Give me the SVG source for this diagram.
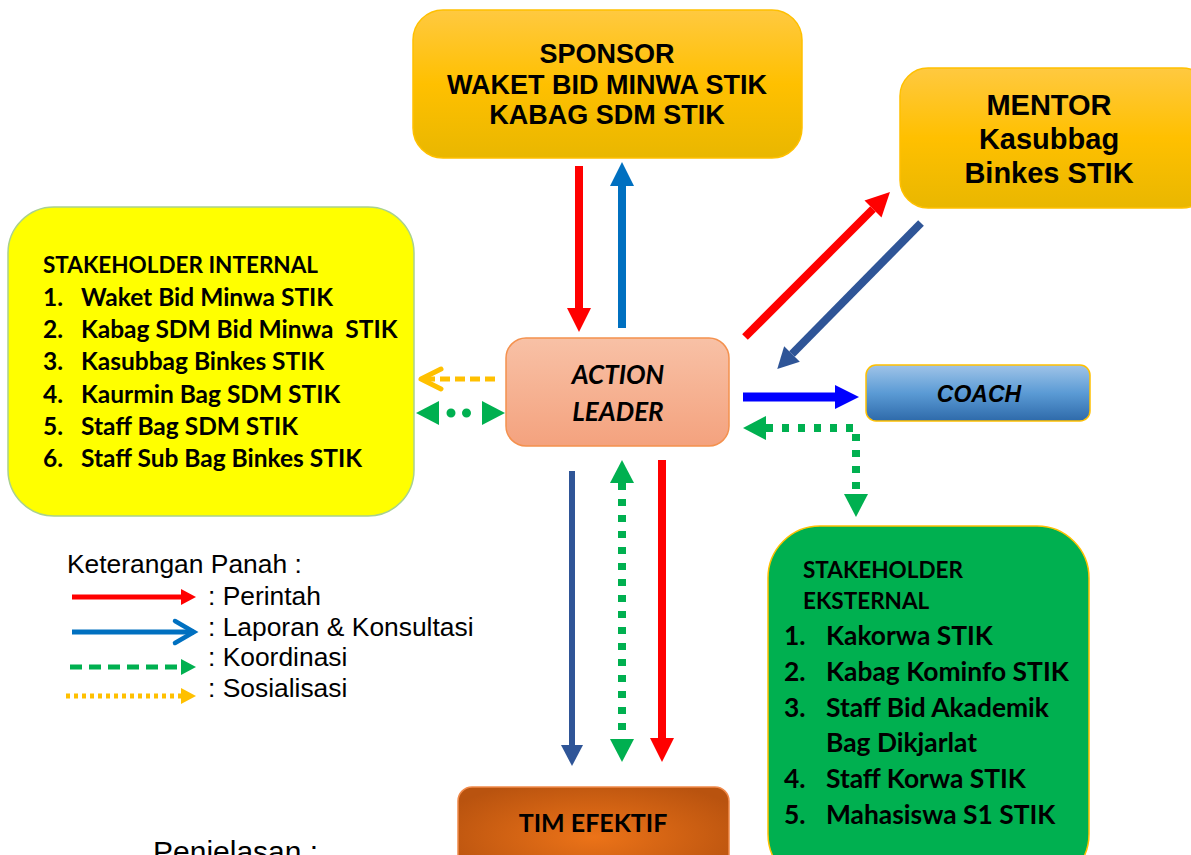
<svg xmlns="http://www.w3.org/2000/svg" width="1191" height="855" viewBox="0 0 1191 855">
<style>
.hd{font-family:"Liberation Sans",Arial,sans-serif;font-weight:bold;fill:#000;text-anchor:middle}
.cb{font-family:Lato,"Noto Sans",sans-serif;font-weight:bold;fill:#000;white-space:pre}
.lg{font-family:"Liberation Sans",Arial,sans-serif;font-size:26.4px;fill:#000}
.ln{fill:none}
</style>
<defs>
<linearGradient id="gGold" x1="0" y1="0" x2="0" y2="1">
<stop offset="0" stop-color="#FFC940"/><stop offset="0.5" stop-color="#FFC000"/><stop offset="1" stop-color="#E9B700"/>
</linearGradient>
<linearGradient id="gPeach" x1="0" y1="0" x2="0" y2="1">
<stop offset="0" stop-color="#F8C1A6"/><stop offset="1" stop-color="#F4A27E"/>
</linearGradient>
<linearGradient id="gBlue" x1="0" y1="0" x2="0" y2="1">
<stop offset="0" stop-color="#A0C4E8"/><stop offset="0.5" stop-color="#5B9BD5"/><stop offset="1" stop-color="#2E6AAA"/>
</linearGradient>
<radialGradient id="gOrange" cx="0.5" cy="0.5" r="0.6">
<stop offset="0" stop-color="#EC7318"/><stop offset="1" stop-color="#B9530F"/>
</radialGradient>
<marker id="mRed" markerUnits="userSpaceOnUse" markerWidth="30" markerHeight="30" orient="auto" refX="0" refY="0" overflow="visible"><path d="M0,-12 L24,0 L0,12 z" fill="#FF0000"/></marker>
<marker id="mLap" markerUnits="userSpaceOnUse" markerWidth="30" markerHeight="30" orient="auto" refX="0" refY="0" overflow="visible"><path d="M0,-12 L24,0 L0,12 z" fill="#0070C0"/></marker>
<marker id="mDark" markerUnits="userSpaceOnUse" markerWidth="30" markerHeight="30" orient="auto" refX="0" refY="0" overflow="visible"><path d="M0,-11 L21,0 L0,11 z" fill="#2F5597"/></marker>
<marker id="mBlue" markerUnits="userSpaceOnUse" markerWidth="30" markerHeight="30" orient="auto" refX="0" refY="0" overflow="visible"><path d="M0,-12 L24,0 L0,12 z" fill="#0000FF"/></marker>
<marker id="mGreen" markerUnits="userSpaceOnUse" markerWidth="30" markerHeight="30" orient="auto-start-reverse" refX="0" refY="0" overflow="visible"><path d="M0,-12 L23,0 L0,12 z" fill="#00B050"/></marker>
<marker id="mYelOpen" markerUnits="userSpaceOnUse" markerWidth="30" markerHeight="30" orient="auto" refX="0" refY="0" overflow="visible"><path d="M-17,-10 L3,0 L-17,10" fill="none" stroke="#FFC000" stroke-width="5" stroke-linecap="round" stroke-linejoin="round"/></marker>
<marker id="sRed" markerUnits="userSpaceOnUse" markerWidth="20" markerHeight="20" orient="auto" refX="0" refY="0" overflow="visible"><path d="M0,-8 L15,0 L0,8 z" fill="#FF0000"/></marker>
<marker id="sLapOpen" markerUnits="userSpaceOnUse" markerWidth="20" markerHeight="20" orient="auto" refX="0" refY="0" overflow="visible"><path d="M-19,-11 L0,0 L-19,11" fill="none" stroke="#0070C0" stroke-width="4.5" stroke-linecap="round" stroke-linejoin="miter"/></marker>
<marker id="sGreen" markerUnits="userSpaceOnUse" markerWidth="20" markerHeight="20" orient="auto" refX="0" refY="0" overflow="visible"><path d="M0,-8 L15,0 L0,8 z" fill="#00B050"/></marker>
<marker id="sYel" markerUnits="userSpaceOnUse" markerWidth="20" markerHeight="20" orient="auto" refX="0" refY="0" overflow="visible"><path d="M0,-8 L15,0 L0,8 z" fill="#FFC000"/></marker>
</defs>
<rect width="1191" height="855" fill="#FFFFFF"/>

<g id="sponsor">
<rect x="413" y="10" width="389" height="148" rx="30" fill="url(#gGold)" stroke="#FFC000" stroke-width="1.5"/>
<text class="hd" font-size="27" x="607" y="63">SPONSOR</text>
<text class="hd" font-size="27" x="607" y="94">WAKET BID MINWA STIK</text>
<text class="hd" font-size="27" x="607" y="124">KABAG SDM STIK</text>
</g>

<g id="mentor">
<rect x="900" y="68" width="310" height="140" rx="28" fill="url(#gGold)" stroke="#FFC000" stroke-width="1.5"/>
<text class="hd" font-size="29" x="1049" y="115">MENTOR</text>
<text class="hd" font-size="29" x="1049" y="149">Kasubbag</text>
<text class="hd" font-size="29" x="1049" y="183">Binkes STIK</text>
</g>

<g id="stakeholder-internal">
<rect x="8" y="207" width="406" height="309" rx="46" fill="#FFFF00" stroke="#A9D18E" stroke-width="1.5"/>
<text class="cb" font-size="22.5" x="43" y="273">STAKEHOLDER INTERNAL</text>
<text class="cb" font-size="24.5" y="306"><tspan x="43">1.</tspan><tspan x="81">Waket Bid Minwa STIK</tspan></text>
<text class="cb" font-size="24.5" y="338"><tspan x="43">2.</tspan><tspan x="81">Kabag SDM Bid Minwa  STIK</tspan></text>
<text class="cb" font-size="24.5" y="370"><tspan x="43">3.</tspan><tspan x="81">Kasubbag Binkes STIK</tspan></text>
<text class="cb" font-size="24.5" y="403"><tspan x="43">4.</tspan><tspan x="81">Kaurmin Bag SDM STIK</tspan></text>
<text class="cb" font-size="24.5" y="435"><tspan x="43">5.</tspan><tspan x="81">Staff Bag SDM STIK</tspan></text>
<text class="cb" font-size="24.5" y="467"><tspan x="43">6.</tspan><tspan x="81">Staff Sub Bag Binkes STIK</tspan></text>
</g>

<g id="action-leader">
<rect x="506" y="338" width="223" height="108" rx="20" fill="url(#gPeach)" stroke="#F4914E" stroke-width="1.5"/>
<text class="cb" font-size="26" font-style="italic" text-anchor="middle" x="618" y="384">ACTION</text>
<text class="cb" font-size="26" font-style="italic" text-anchor="middle" x="618" y="421">LEADER</text>
</g>

<g id="coach">
<rect x="866" y="365" width="224" height="56" rx="10" fill="url(#gBlue)" stroke="#FFC000" stroke-width="1.5"/>
<text class="hd" font-size="23" font-style="italic" x="979" y="402">COACH</text>
</g>

<g id="stakeholder-eksternal">
<rect x="768" y="526" width="321" height="360" rx="52" fill="#00B050" stroke="#FFC000" stroke-width="1.5"/>
<text class="cb" font-size="22.5" x="803" y="578">STAKEHOLDER</text>
<text class="cb" font-size="22.5" x="803" y="609">EKSTERNAL</text>
<text class="cb" font-size="26.4" y="645"><tspan x="784">1.</tspan><tspan x="826">Kakorwa STIK</tspan></text>
<text class="cb" font-size="26.4" y="681"><tspan x="784">2.</tspan><tspan x="826">Kabag Kominfo STIK</tspan></text>
<text class="cb" font-size="26.4" y="717"><tspan x="784">3.</tspan><tspan x="826">Staff Bid Akademik</tspan></text>
<text class="cb" font-size="26.4" x="826" y="752">Bag Dikjarlat</text>
<text class="cb" font-size="26.4" y="788"><tspan x="784">4.</tspan><tspan x="826">Staff Korwa STIK</tspan></text>
<text class="cb" font-size="26.4" y="824"><tspan x="784">5.</tspan><tspan x="826">Mahasiswa S1 STIK</tspan></text>
</g>

<g id="tim-efektif">
<rect x="458" y="787" width="271" height="100" rx="14" fill="url(#gOrange)" stroke="#F08A4B" stroke-width="1.5"/>
<text class="cb" font-size="25" text-anchor="middle" x="593" y="832">TIM EFEKTIF</text>
</g>

<g id="connectors" class="ln">
<line x1="579" y1="166" x2="579" y2="308" stroke="#FF0000" stroke-width="8" marker-end="url(#mRed)"/>
<line x1="622" y1="328" x2="622" y2="186" stroke="#0070C0" stroke-width="8" marker-end="url(#mLap)"/>
<line x1="745" y1="337" x2="873" y2="209" stroke="#FF0000" stroke-width="8" marker-end="url(#mRed)"/>
<line x1="921" y1="223" x2="792" y2="354" stroke="#2F5597" stroke-width="8" marker-end="url(#mDark)"/>
<line x1="743" y1="397" x2="835" y2="397" stroke="#0000FF" stroke-width="9" marker-end="url(#mBlue)"/>
<path d="M766,428 L856,428 L856,494" stroke="#00B050" stroke-width="8" stroke-dasharray="7 9" marker-start="url(#mGreen)" marker-end="url(#mGreen)"/>
<line x1="495" y1="379" x2="424" y2="379" stroke="#FFC000" stroke-width="5" stroke-dasharray="10 5" marker-end="url(#mYelOpen)"/>
<line x1="439" y1="413" x2="482" y2="413" stroke="#00B050" stroke-width="9" stroke-linecap="round" stroke-dasharray="0 15.5" stroke-dashoffset="3.5" marker-start="url(#mGreen)" marker-end="url(#mGreen)"/>
<line x1="572" y1="471" x2="572" y2="745" stroke="#2F5597" stroke-width="6" marker-end="url(#mDark)"/>
<line x1="622" y1="483" x2="622" y2="739" stroke="#00B050" stroke-width="8" stroke-dasharray="7 9" marker-start="url(#mGreen)" marker-end="url(#mGreen)"/>
<line x1="662" y1="460" x2="662" y2="738" stroke="#FF0000" stroke-width="8" marker-end="url(#mRed)"/>
</g>

<g id="legend">
<text class="lg" x="67" y="573">Keterangan Panah :</text>
<line x1="72" y1="597" x2="181" y2="597" stroke="#FF0000" stroke-width="5" marker-end="url(#sRed)"/>
<line x1="72" y1="632" x2="194" y2="632" stroke="#0070C0" stroke-width="5" marker-end="url(#sLapOpen)"/>
<line x1="70" y1="667" x2="181" y2="667" stroke="#00B050" stroke-width="5" stroke-dasharray="12 7" marker-end="url(#sGreen)"/>
<line x1="66" y1="696" x2="181" y2="696" stroke="#FFC000" stroke-width="5" stroke-dasharray="4 4" marker-end="url(#sYel)"/>
<text class="lg" x="208" y="605">: Perintah</text>
<text class="lg" x="208" y="636">: Laporan &amp; Konsultasi</text>
<text class="lg" x="208" y="666">: Koordinasi</text>
<text class="lg" x="208" y="697">: Sosialisasi</text>
<text class="lg" style="font-size:30px" x="153" y="862">Penjelasan :</text>
</g>
</svg>
